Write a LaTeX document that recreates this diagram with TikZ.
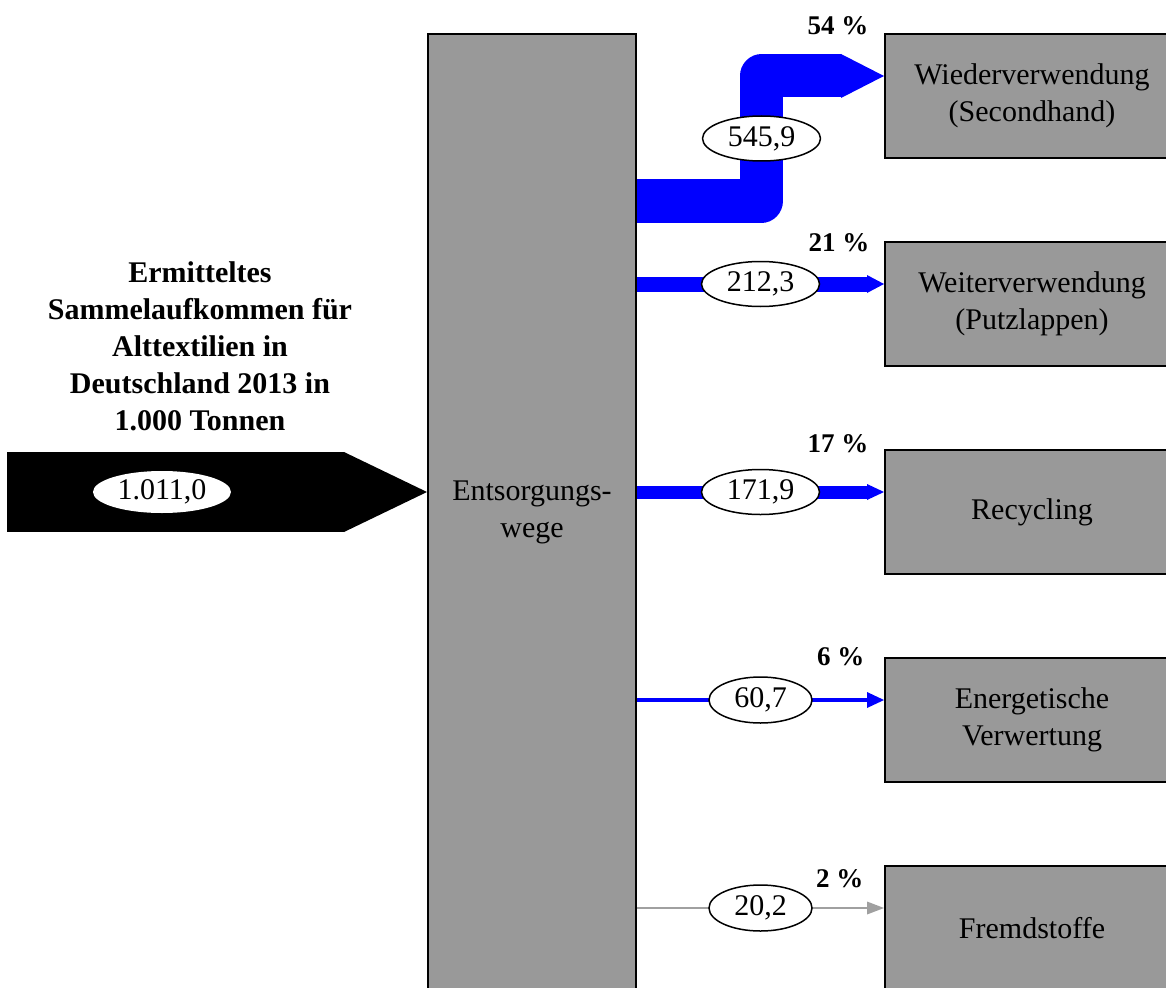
\documentclass[tikz,border=0pt]{standalone}
\usepackage{fontspec}
\setmainfont{Liberation Serif}
\usetikzlibrary{arrows.meta,shapes.geometric}
\definecolor{boxgray}{HTML}{999999}
\definecolor{flowblue}{HTML}{0000FF}
\definecolor{flowgray}{HTML}{A0A0A0}

\begin{document}
\begin{tikzpicture}[x=1pt,y=-1pt,
  box/.style={draw=black,line width=2pt,fill=boxgray,align=center,inner sep=0pt,
    font=\fontsize{30}{37}\selectfont},
  target/.style={box,minimum width=294pt,minimum height=124pt},
  val/.style={shape=ellipse,draw=black,text=black,line width=1.5pt,fill=white,inner sep=0pt,
    minimum width=118pt,minimum height=45pt,font=\fontsize{30}{36}\selectfont},
  smallval/.style={val,minimum width=103pt,minimum height=46pt},
  pct/.style={anchor=base east,font=\bfseries\fontsize{27}{30}\selectfont}]
  \useasboundingbox (0,0) rectangle (1166,987);

  % boxes
  \node[box,minimum width=208pt,minimum height=956pt] (ent) at (532,512) {Entsorgungs-\\wege};
  \node[target] (wv) at (1032,96) {Wiederverwendung\\(Secondhand)};
  \node[target] (wtv) at (1032,304) {Weiterverwendung\\(Putzlappen)};
  \node[target] (rec) at (1032,512) {Recycling};
  \node[target] (ener) at (1032,720) {Energetische\\Verwertung};
  \node[target] (fremd) at (1032,928) {Fremdstoffe};

  % input
  \node[font=\bfseries\fontsize{30}{37}\selectfont,align=center] (head) at (200,346)
    {Ermitteltes\\Sammelaufkommen für\\Alttextilien in\\Deutschland 2013 in\\1.000 Tonnen};
  \coordinate (src) at (7,492);
  \draw[black,line width=80pt,-{Triangle[length=83pt,width=80pt,line width=0pt]}] (src)
    -- node[val,pos=0.369,draw=none,minimum width=138pt,minimum height=42pt] {1.011,0} (ent.west |- src);

  % outputs
  \draw[flowblue,line width=43pt,line join=round,-{Triangle[length=43pt,width=44pt,line width=0pt]}]
    (ent.east |- 0,201) -- (761.5,201) -- node[val] {545,9} (761.5,76) -- ([yshift=20pt]wv.west);
  \draw[flowblue,line width=15pt,-{Triangle[length=17pt,width=18pt,line width=0pt]}]
    (ent.east |- 0,284) -- node[val] {212,3} ([yshift=20pt]wtv.west);
  \draw[flowblue,line width=13pt,-{Triangle[length=17pt,width=16pt,line width=0pt]}]
    (ent.east |- 0,492) -- node[val] {171,9} ([yshift=20pt]rec.west);
  \draw[flowblue,line width=4pt,-{Triangle[length=17pt,width=16pt,line width=0pt]}]
    (ent.east |- 0,700) -- node[smallval] {60,7} ([yshift=20pt]ener.west);
  \draw[flowgray,line width=2pt,-{Triangle[length=17pt,width=13pt,line width=0pt]}]
    (ent.east |- 0,908) -- node[smallval] {20,2} ([yshift=20pt]fremd.west);

  % shares
  \node[pct] (p1) at (872,35) {54 \%};
  \node[pct] (p2) at (873,251) {21 \%};
  \node[pct] (p3) at (872,452) {17 \%};
  \node[pct] (p4) at (868,665) {6 \%};
  \node[pct] (p5) at (867,887) {2 \%};
\end{tikzpicture}
\end{document}
